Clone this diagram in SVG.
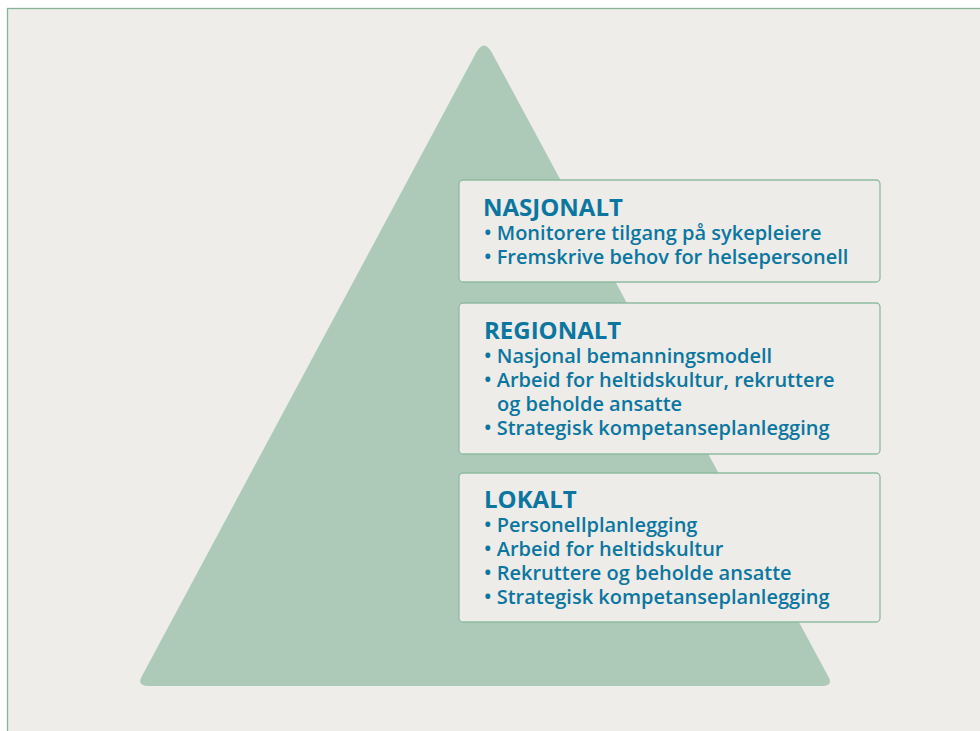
<svg xmlns="http://www.w3.org/2000/svg" width="980" height="731" viewBox="0 0 980 731">
<style>
.box{fill:#EDECE8;stroke:#8FBA9F;stroke-width:1.3}
.h{font-family:"Open Sans","Noto Sans",sans-serif;font-weight:700;font-size:24px;fill:#0B76A0}
.t{font-family:"Open Sans","Noto Sans",sans-serif;font-weight:600;font-size:20px;fill:#0B76A0}
</style>
<rect x="0" y="0" width="980" height="731" fill="#FFFFFF"/>
<rect x="7.5" y="8.5" width="990" height="740" fill="#EEEDE9" stroke="#86B497" stroke-width="1.3"/>
<g id="pyramid">
<path d="M476.5,52 Q484,39 491.5,52 L828,676 Q834,686 822,686 L149,686 Q136,686 142,676 Z" fill="#ADC9B8"/>
</g>
<g id="connectors"></g>
<g id="nasjonalt">
<rect class="box" x="459" y="180" width="421" height="102" rx="4"/>
<text class="h" x="483" y="216">NASJONALT</text>
<text class="t" x="484" y="240">• Monitorere tilgang på sykepleiere</text>
<text class="t" x="484" y="264">• Fremskrive behov for helsepersonell</text>
</g>
<g id="regionalt">
<rect class="box" x="459" y="303" width="421" height="151" rx="4"/>
<text class="h" x="484" y="339">REGIONALT</text>
<text class="t" x="484" y="363">• Nasjonal bemanningsmodell</text>
<text class="t" x="484" y="387">• Arbeid for heltidskultur, rekruttere</text>
<text class="t" x="497" y="411">og beholde ansatte</text>
<text class="t" x="484" y="435">• Strategisk kompetanseplanlegging</text>
</g>
<g id="lokalt">
<rect class="box" x="459" y="473" width="421" height="149" rx="4"/>
<text class="h" x="484" y="508">LOKALT</text>
<text class="t" x="484" y="532">• Personellplanlegging</text>
<text class="t" x="484" y="556">• Arbeid for heltidskultur</text>
<text class="t" x="484" y="580">• Rekruttere og beholde ansatte</text>
<text class="t" x="484" y="604">• Strategisk kompetanseplanlegging</text>
</g>
</svg>
